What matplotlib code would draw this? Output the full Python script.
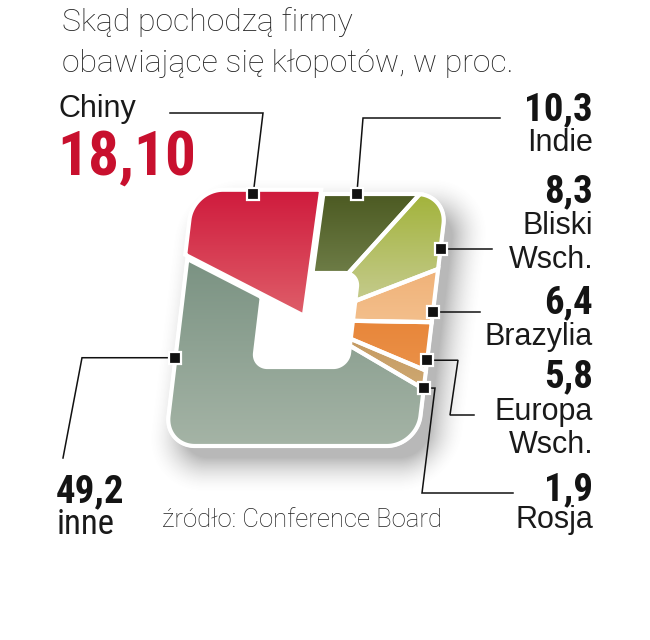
import numpy as np
import matplotlib
matplotlib.use("Agg")
import matplotlib.pyplot as plt
from matplotlib.patches import Polygon
from matplotlib.transforms import Affine2D
from matplotlib.colors import to_rgb
from matplotlib import font_manager as fm

# ---------------- data ----------------
regions = ["Indie", "Bliski\nWsch.", "Brazylia", "Europa\nWsch.", "Rosja", "inne", "Chiny"]
values = [10.3, 8.3, 6.4, 5.8, 1.9, 49.2, 18.10]
value_labels = ["10,3", "8,3", "6,4", "5,8", "1,9", "49,2", "18,10"]
title_lines = ["Skąd pochodzą firmy", "obawiające się kłopotów, w proc."]
source = "źródło: Conference Board"

# gradient colours (top, bottom) per slice
colors_top = ["#4b5921", "#a2b33a", "#f0b177", "#e8863a", "#c49a62", "#7a9282", "#cf1a3c"]
colors_bot = ["#6e7d47", "#c5cb8e", "#f3bf8c", "#ea9148", "#cfa972", "#a5b4a6", "#df5f6a"]

# ---------------- layout ----------------
CX, CY = 306.0, 320.0
SHEAR = 0.12
OUT_H, OUT_R = 126.0, 30.0
IN_H, IN_R = 47.0, 14.0
START = 1.0
marker_frac = [0.4, 0.75, 0.8, 0.8, 0.95, 0.76, 0.55]


def has_font(name):
    try:
        fm.findfont(fm.FontProperties(family=name), fallback_to_default=False)
        return True
    except Exception:
        return False


COND = None
for cand in ["Roboto Condensed", "Liberation Sans Narrow", "DejaVu Sans Condensed"]:
    if has_font(cand):
        COND = cand
        break
if COND is None:
    FONT_NUM = ["Liberation Sans", "DejaVu Sans"]
    num_scale = 0.86
else:
    FONT_NUM = [COND, "Liberation Sans", "DejaVu Sans"]
    num_scale = 1.0

FONT_REG = ["Liberation Sans", "DejaVu Sans"]
FONT_LIGHT = ["Roboto", "Liberation Sans", "DejaVu Sans"]

fig = plt.figure(figsize=(6.5, 6.4), dpi=100)
ax = fig.add_axes([0, 0, 1, 1])
ax.set_xlim(0, 650)
ax.set_ylim(640, 0)
ax.axis("off")

shear_tr = Affine2D(np.array([[1.0, -SHEAR, CX], [0.0, 1.0, CY], [0.0, 0.0, 1.0]]))
tr = shear_tr + ax.transData


def to_px(x, y):
    return CX + x - SHEAR * y, CY + y


def sdf(px, py, h, r):
    qx = np.abs(px) - (h - r)
    qy = np.abs(py) - (h - r)
    out = np.hypot(np.maximum(qx, 0), np.maximum(qy, 0))
    inside = np.minimum(np.maximum(qx, qy), 0)
    return out + inside - r


def ray(theta_deg, h, r):
    t = np.radians(theta_deg)
    dx, dy = np.sin(t), -np.cos(t)
    lo, hi = 0.0, 400.0
    for _ in range(50):
        mid = 0.5 * (lo + hi)
        if sdf(mid * dx, mid * dy, h, r) < 0:
            lo = mid
        else:
            hi = mid
    return lo * dx, lo * dy


# ---------------- shadow ----------------
H, W = 640, 650
Yg, Xg = np.mgrid[0:H, 0:W].astype(float)
sdx, sdy = 12.0, 15.0
yl = Yg - CY - sdy
xl = (Xg - CX - sdx) + SHEAR * yl
d = sdf(xl, yl, OUT_H, OUT_R)
blur = 36.0
a = np.clip(1 - (d + 4) / blur, 0, 1) ** 1.8 * 0.48
shadow = np.zeros((H, W, 4))
shadow[..., :3] = 0.42
shadow[..., 3] = a
ax.imshow(shadow, extent=(0, W, H, 0), origin="upper", zorder=0, interpolation="bilinear")

# ---------------- slices ----------------
total = sum(values)
angles = [START]
for v in values:
    angles.append(angles[-1] + 360.0 * v / total)


def gradient_fill(poly_xy, ctop, cbot, z):
    poly = Polygon(poly_xy, closed=True, transform=tr, facecolor="none", edgecolor="none")
    ax.add_patch(poly)
    ys = poly_xy[:, 1]
    xs = poly_xy[:, 0]
    n = 64
    c1, c2 = np.array(to_rgb(ctop)), np.array(to_rgb(cbot))
    g = np.linspace(0, 1, n)[:, None]
    img = (c1[None, :] * (1 - g) + c2[None, :] * g)[:, None, :].repeat(2, axis=1)
    im = ax.imshow(img, extent=(xs.min() - 2, xs.max() + 2, ys.max() + 2, ys.min() - 2),
                   origin="upper", transform=tr, zorder=z, interpolation="bilinear", aspect="auto")
    im.set_clip_path(poly)
    edge = Polygon(poly_xy, closed=True, transform=tr, facecolor="none",
                   edgecolor="white", linewidth=3.0, zorder=z + 0.1, joinstyle="miter")
    ax.add_patch(edge)


slice_polys = []
for i, v in enumerate(values):
    a0, a1 = angles[i], angles[i + 1]
    n = max(6, int((a1 - a0) * 3))
    th = np.linspace(a0, a1, n)
    outer = np.array([ray(t, OUT_H, OUT_R) for t in th])
    if regions[i] == "Chiny":
        mid = np.radians(0.5 * (a0 + a1))
        ex = np.array([np.sin(mid), -np.cos(mid)]) * 5.0
        pts = np.vstack([outer, [[0.0, 0.0]]]) + ex
        slice_polys.append((i, pts, 3))
    else:
        inner = np.array([ray(t, IN_H, IN_R) for t in th])[::-1]
        pts = np.vstack([outer, inner])
        slice_polys.append((i, pts, 1))

th_all = np.linspace(0, 360, 720)
rim = np.array([ray(t, OUT_H, OUT_R) for t in th_all])
ax.add_patch(Polygon(rim, closed=True, transform=tr, facecolor="none",
                     edgecolor="white", linewidth=2.5, zorder=0.5))

for i, pts, z in slice_polys:
    gradient_fill(pts, colors_top[i], colors_bot[i], z)

hole = np.array([ray(t, IN_H, IN_R) for t in th_all])
ax.add_patch(Polygon(hole, closed=True, transform=tr, facecolor="white",
                     edgecolor="white", linewidth=1.0, zorder=2))

# ---------------- markers & leaders ----------------
leader_pts = {
    "Chiny": [(263, 113), (170, 113)],
    "Indie": [(363, 118), (500, 118)],
    "Bliski\nWsch.": [(492, None)],
    "Brazylia": [(480, None)],
    "Europa\nWsch.": [(458, None), (450, 415), (474, 415)],
    "Rosja": [(435, None), (422, 493), (513, 493)],
    "inne": [(82, None), (63, 458)],
}
for i, name in enumerate(regions):
    a0, a1 = angles[i], angles[i + 1]
    am = a0 + marker_frac[i] * (a1 - a0)
    lx, ly = ray(am, OUT_H, OUT_R)
    mx, my = to_px(lx, ly)
    path = [(mx, my)] + [(x, my if y is None else y) for x, y in leader_pts[name]]
    xs, ys = zip(*path)
    ax.plot(xs, ys, color="#111111", linewidth=1.1, zorder=4, solid_joinstyle="miter")
    ax.plot([mx], [my], marker="s", markersize=8.5, color="#111111",
            markeredgecolor="white", markeredgewidth=1.6, zorder=5)

# ---------------- text ----------------
ax.text(62, 31, title_lines[0], fontsize=23, family=FONT_LIGHT, fontweight="light",
        color="#222222", va="baseline", ha="left")
ax.text(62, 72, title_lines[1], fontsize=23, family=FONT_LIGHT, fontweight="light",
        color="#222222", va="baseline", ha="left")

name_style = dict(fontsize=22, family=FONT_REG, color="#1a1a1a", va="baseline")
num_style = dict(fontsize=28 * num_scale, family=FONT_NUM, fontweight="bold",
                 color="#141414", va="baseline")

ci = regions.index("Chiny")
ax.text(58, 117, regions[ci], ha="left", **name_style)
ax.text(57, 175, value_labels[ci], ha="left", fontsize=44 * num_scale, family=FONT_NUM,
        fontweight="bold", color="#c8102e", va="baseline")

ii = regions.index("inne")
ax.text(56, 502, value_labels[ii], ha="left", **num_style)
ax.text(57, 534, regions[ii], ha="left", fontsize=25 * num_scale, family=FONT_NUM,
        color="#1a1a1a", va="baseline")

right_layout = {
    "Indie": (120, [151]),
    "Bliski\nWsch.": (202, [234, 268]),
    "Brazylia": (313, [345]),
    "Europa\nWsch.": (387, [420, 453]),
    "Rosja": (500, [528]),
}
RX = 593
for name, (ynum, ynames) in right_layout.items():
    i = regions.index(name)
    ax.text(RX, ynum, value_labels[i], ha="right", **num_style)
    for line, yy in zip(name.split("\n"), ynames):
        ax.text(RX, yy, line, ha="right", **name_style)

ax.text(162, 527, source, fontsize=18.5, family=FONT_LIGHT, fontweight="light",
        color="#222222", va="baseline", ha="left")

fig.savefig("out.png", dpi=100, facecolor="white")
